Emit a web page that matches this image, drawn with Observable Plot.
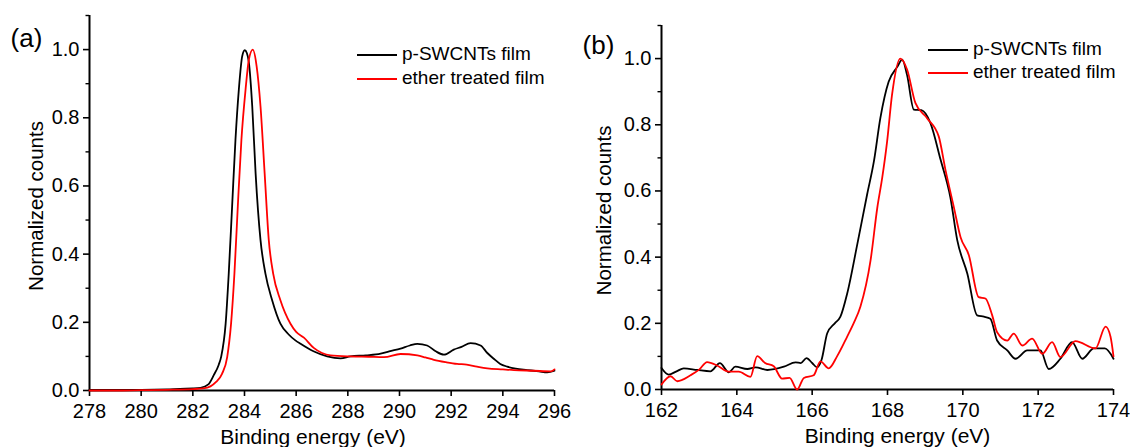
<!DOCTYPE html>
<html>
<head>
<meta charset="utf-8">
<script src="https://cdn.jsdelivr.net/npm/d3@7"></script>
<script src="https://cdn.jsdelivr.net/npm/@observablehq/plot@0.6"></script>
<style>
  body { margin: 0; background: #fff; }
  #wrap { position: relative; width: 1130px; height: 447px; overflow: hidden; font-family: "Liberation Sans", Arial, sans-serif; }
  .panel { position: absolute; top: 0; }
  .lg-line { position: absolute; height: 0; width: 40px; border-top: 2px solid #000; }
  .lg-text { position: absolute; font-size: 19px; line-height: 22px; color: #000; white-space: nowrap; }
</style>
</head>
<body>
<div id="wrap">
  <div id="pa" class="panel" style="left:0"></div>
  <div id="pb" class="panel" style="left:565px"></div>
</div>
<script>
// ---------- data ----------
const seriesNames = ["p-SWCNTs film", "ether treated film"];
const seriesColors = ["#000000", "#ff0000"];
const panelLabels = ["(a)", "(b)"];
const yLabel = "Normalized counts";
const xLabel = "Binding energy (eV)";

// Panel (a): C 1s
const aTicksX = [278, 280, 282, 284, 286, 288, 290, 292, 294, 296];
const aBlackE = [278.0,279.0,280.0,281.0,281.5,282.0,282.3,282.6,282.81,283.0,283.1,283.27,283.39,283.52,283.65,283.78,283.91,284.01,284.09,284.17,284.3,284.43,284.62,284.81,285.07,285.39,285.7,285.97,286.17,286.67,287.2,287.72,288.1,288.7,289.27,289.6,290.04,290.4,290.69,291.07,291.4,291.72,292.1,292.4,292.75,293.14,293.4,293.65,293.9,294.17,294.5,294.95,295.4,295.72,296.0];
const aBlackV = [0.002,0.002,0.002,0.003,0.005,0.006,0.008,0.018,0.045,0.075,0.1,0.196,0.343,0.539,0.735,0.882,0.98,0.998,0.99,0.962,0.833,0.637,0.441,0.343,0.265,0.196,0.165,0.147,0.137,0.115,0.1,0.094,0.1,0.103,0.108,0.115,0.123,0.132,0.137,0.132,0.115,0.105,0.12,0.128,0.139,0.132,0.11,0.093,0.078,0.07,0.064,0.06,0.056,0.053,0.058];
const aRedE = [278.0,279.0,280.0,281.0,282.0,282.4,282.68,282.9,283.13,283.33,283.48,283.61,283.74,283.88,284.04,284.17,284.32,284.47,284.62,284.78,284.94,285.11,285.39,285.78,286.0,286.3,286.68,287.0,287.33,288.1,288.8,289.4,290.04,290.69,291.0,291.33,291.8,292.23,292.6,293.0,293.4,294.0,294.43,295.2,295.85,296.0];
const aRedV = [0.0,0.0,0.001,0.002,0.004,0.006,0.012,0.025,0.049,0.098,0.196,0.343,0.539,0.735,0.882,0.971,1.0,0.951,0.833,0.637,0.441,0.343,0.265,0.196,0.172,0.155,0.125,0.11,0.103,0.1,0.099,0.098,0.107,0.103,0.097,0.09,0.083,0.078,0.076,0.07,0.065,0.062,0.06,0.058,0.056,0.062];

// Panel (b): S 2p
const bTicksX = [162, 164, 166, 168, 170, 172, 174];
const bBlackE = [162.0,162.19,162.4,162.59,162.95,163.3,163.55,163.79,163.96,164.28,164.5,164.81,165.25,165.56,165.7,165.85,166.0,166.13,166.25,166.4,166.6,166.75,166.93,167.2,167.46,167.64,167.81,168.03,168.26,168.39,168.52,168.7,168.9,169.14,169.41,169.67,169.85,170.12,170.38,170.56,170.73,170.91,171.18,171.4,171.71,172.06,172.28,172.59,172.9,173.17,173.48,173.77,174.0];
const bBlackV = [0.065,0.045,0.055,0.064,0.059,0.055,0.08,0.052,0.069,0.062,0.067,0.059,0.069,0.082,0.08,0.095,0.08,0.067,0.09,0.17,0.2,0.22,0.29,0.44,0.59,0.69,0.82,0.93,0.975,0.997,0.95,0.846,0.844,0.805,0.694,0.58,0.452,0.35,0.224,0.22,0.214,0.148,0.118,0.093,0.118,0.118,0.062,0.093,0.143,0.093,0.124,0.124,0.093];
const bRedE = [162.0,162.24,162.42,162.77,163.0,163.21,163.5,163.78,164.05,164.36,164.54,164.75,164.98,165.2,165.4,165.6,165.78,166.04,166.22,166.44,166.66,166.93,167.1,167.28,167.55,167.73,167.86,167.99,168.12,168.34,168.52,168.74,169.05,169.36,169.54,169.76,169.94,170.16,170.42,170.6,170.78,170.91,171.18,171.35,171.58,171.84,172.11,172.37,172.59,172.99,173.52,173.79,173.92,174.0];
const bRedV = [0.015,0.04,0.025,0.043,0.06,0.083,0.071,0.054,0.054,0.038,0.101,0.08,0.07,0.033,0.035,0.0,0.035,0.043,0.085,0.064,0.1,0.16,0.2,0.25,0.39,0.55,0.64,0.75,0.89,1.0,0.967,0.866,0.82,0.765,0.663,0.552,0.46,0.406,0.279,0.275,0.224,0.173,0.148,0.169,0.133,0.154,0.108,0.143,0.098,0.146,0.124,0.19,0.16,0.1];

const yTicks = [0, 0.2, 0.4, 0.6, 0.8, 1.0];
const yMinorTicks = [0.1, 0.3, 0.5, 0.7, 0.9, 1.1];
const yDomain = [0, 1.1];

// ---------- drawing ----------
const zip = (xs, ys) => xs.map((x, i) => ({x, y: ys[i]}));
const FONT = '"Liberation Sans", Arial, sans-serif';

function panel(opts) {
  const {xTicks, black, red, label, margins} = opts;
  const xDomain = [xTicks[0], xTicks[xTicks.length - 1]];
  return Plot.plot({
    width: 565,
    height: 447,
    ...margins,
    style: {fontFamily: FONT, fontSize: "19px", color: "#000", background: "transparent", overflow: "visible"},
    x: {domain: xDomain},
    y: {domain: yDomain},
    marks: [
      Plot.axisX({ticks: xTicks, tickSize: 6, tickPadding: 7, tickFormat: d => String(d), label: null, strokeWidth: 1.6, fontSize: 20}),
      Plot.axisY({ticks: yTicks, tickSize: 6, tickPadding: 4, tickFormat: d3.format(".1f"), label: null, strokeWidth: 1.6, fontSize: 20}),
      Plot.axisY({ticks: yMinorTicks, tickSize: 3.5, tickFormat: () => "", label: null, strokeWidth: 1.4}),
      Plot.ruleX([xDomain[0]], {strokeWidth: 2}),
      Plot.ruleY([0], {strokeWidth: 2}),
      Plot.line(zip(black[0], black[1]), {x: "x", y: "y", stroke: seriesColors[0], strokeWidth: 1.8, curve: "monotone-x"}),
      Plot.line(zip(red[0], red[1]), {x: "x", y: "y", stroke: seriesColors[1], strokeWidth: 1.8, curve: "monotone-x"}),
      Plot.text([yLabel], {text: d => d, frameAnchor: "left", dx: opts.yLabelDx, dy: 3, rotate: -90, textAnchor: "middle", lineAnchor: "middle", fontSize: 20.5}),
      Plot.text([xLabel], {text: d => d, frameAnchor: "bottom", dx: opts.xLabelDx, dy: 47, textAnchor: "middle", lineAnchor: "middle", fontSize: 21}),
      Plot.text([label], {text: d => d, frameAnchor: "top-left", dx: opts.labelDx, dy: opts.labelDy, textAnchor: "middle", lineAnchor: "middle", fontSize: 26})
    ]
  });
}

document.getElementById("pa").append(panel({
  xTicks: aTicksX, black: [aBlackE, aBlackV], red: [aRedE, aRedV], label: panelLabels[0],
  margins: {marginLeft: 89, marginRight: 11, marginTop: 15, marginBottom: 57},
  yLabelDx: -53, xLabelDx: -9, labelDx: -63, labelDy: 23
}));
document.getElementById("pb").append(panel({
  xTicks: bTicksX, black: [bBlackE, bBlackV], red: [bRedE, bRedV], label: panelLabels[1],
  margins: {marginLeft: 96, marginRight: 17, marginTop: 25, marginBottom: 58},
  yLabelDx: -57, xLabelDx: 10, labelDx: -63, labelDy: 20
}));

// legends
const wrap = document.getElementById("wrap");
function legend(left, top, gap) {
  seriesNames.forEach((name, i) => {
    const y = top + i * gap;
    const ln = document.createElement("div");
    ln.className = "lg-line";
    ln.style.left = left + "px";
    ln.style.top = (y - 1) + "px";
    ln.style.borderTopColor = seriesColors[i];
    wrap.append(ln);
    const tx = document.createElement("div");
    tx.className = "lg-text";
    tx.style.left = (left + 45) + "px";
    tx.style.top = (y - 12) + "px";
    tx.textContent = name;
    wrap.append(tx);
  });
}
legend(357, 55, 24);
legend(928, 50, 23);
</script>
</body>
</html>
